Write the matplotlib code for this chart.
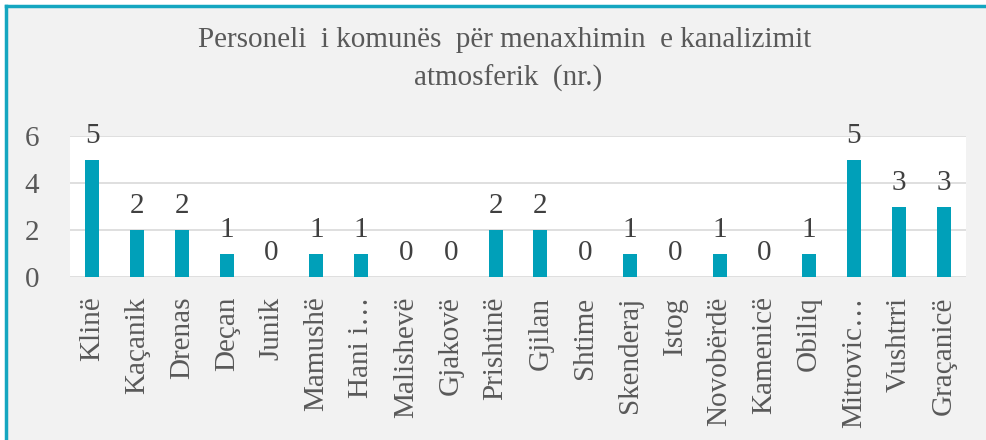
import matplotlib.pyplot as plt
from matplotlib.patches import Rectangle
from matplotlib.lines import Line2D

komunat = ["Klinë", "Kaçanik", "Drenas", "Deçan", "Junik", "Mamushë", "Hani i…",
           "Malishevë", "Gjakovë", "Prishtinë", "Gjilan", "Shtime", "Skenderaj",
           "Istog", "Novobërdë", "Kamenicë", "Obiliq", "Mitrovic…", "Vushtrri",
           "Graçanicë"]
personeli = [5, 2, 2, 1, 0, 1, 1, 0, 0, 2, 2, 0, 1, 0, 1, 0, 1, 5, 3, 3]
yticks = [0, 2, 4, 6]

teal = "#00A0B9"
gray_txt = "#595959"
plt.rcParams['font.family'] = ['Liberation Serif', 'DejaVu Serif']

fig = plt.figure(figsize=(9.86, 4.4), dpi=100)
fig.patch.set_facecolor("white")
# chart background and teal border (top and left)
fig.add_artist(Rectangle((6 / 986, 0), 1, 1 - 6 / 440, transform=fig.transFigure,
                         facecolor="#F2F2F2", edgecolor="none", zorder=-2))
fig.add_artist(Line2D([6 / 986, 6 / 986], [0, 1 - 6 / 440], transform=fig.transFigure,
                      color="#14A6C0", lw=2.5))
fig.add_artist(Line2D([6 / 986, 1], [1 - 6 / 440, 1 - 6 / 440], transform=fig.transFigure,
                      color="#14A6C0", lw=2.5))

ax = fig.add_axes([70 / 986, 1 - 277 / 440, 896 / 986, 141 / 440])
ax.set_facecolor("white")
x = range(len(komunat))
ax.bar(x, personeli, width=0.31, color=teal, zorder=3)
for xi, v in zip(x, personeli):
    ax.annotate(str(v), (xi, v), xytext=(0, 17), textcoords="offset points",
                ha="center", va="center", fontsize=21, color="#404040")

ax.set_xlim(-0.5, len(komunat) - 0.5)
ax.set_ylim(0, 6)
ax.set_yticks(yticks)
ax.set_yticklabels([str(t) for t in yticks], fontsize=21, color=gray_txt)
ax.set_xticks(list(x))
ax.set_xticklabels(komunat, rotation=90, fontsize=21, color=gray_txt)
ax.grid(axis="y", color="#D9D9D9", lw=1.2, zorder=0)
ax.tick_params(length=0, pad=14)
ax.tick_params(axis="y", pad=22)
for s in ax.spines.values():
    s.set_visible(False)

fig.text(505 / 986, 1 - 40 / 440, "Personeli  i komunës  për menaxhimin  e kanalizimit",
         ha="center", va="center", fontsize=21, color=gray_txt)
fig.text(508 / 986, 1 - 78 / 440, "atmosferik  (nr.)",
         ha="center", va="center", fontsize=21, color=gray_txt)

fig.savefig("out.png", dpi=100, facecolor=fig.get_facecolor())
